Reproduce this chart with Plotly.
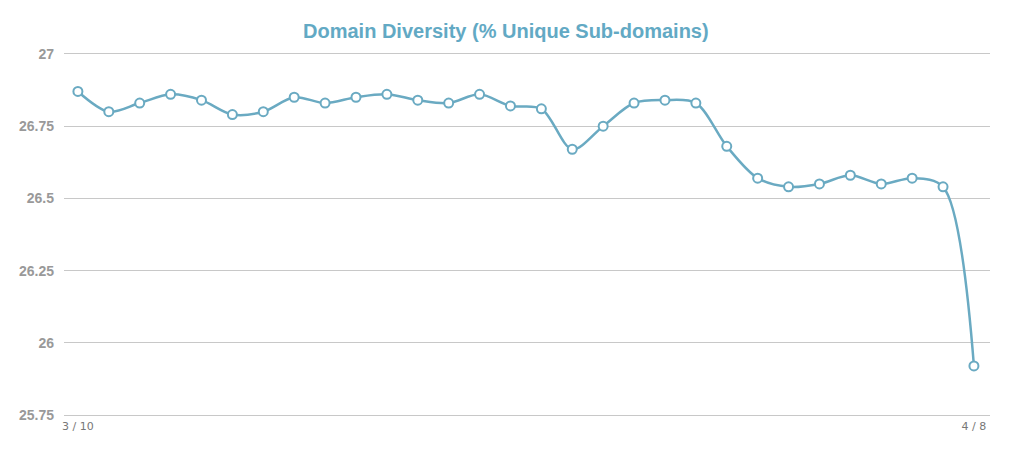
import plotly.graph_objects as go

dates = ["3/10", "3/11", "3/12", "3/13", "3/14", "3/15", "3/16", "3/17", "3/18", "3/19",
         "3/20", "3/21", "3/22", "3/23", "3/24", "3/25", "3/26", "3/27", "3/28", "3/29",
         "3/30", "3/31", "4/1", "4/2", "4/3", "4/4", "4/5", "4/6", "4/7", "4/8"]
diversity = [26.87, 26.80, 26.83, 26.86, 26.84, 26.79, 26.80, 26.85, 26.83, 26.85,
             26.86, 26.84, 26.83, 26.86, 26.82, 26.81, 26.67, 26.75, 26.83, 26.84,
             26.83, 26.68, 26.57, 26.54, 26.55, 26.58, 26.55, 26.57, 26.54, 25.92]
x_tick_labels = ["3/10", "4/8"]
y_ticks = [25.75, 26, 26.25, 26.5, 26.75, 27]
y_tick_labels = ["25.75", "26", "26.25", "26.5", "26.75", "27"]

idx = list(range(len(dates)))

fig = go.Figure()
fig.add_trace(go.Scatter(
    x=idx, y=diversity, mode="lines+markers",
    line=dict(color="#6aaac2", width=2.5, shape="spline", smoothing=0.9),
    marker=dict(size=9, color="white", line=dict(color="#6aaac2", width=2)),
    text=dates, hoverinfo="text+y",
))

fig.update_layout(
    width=1016, height=453,
    margin=dict(l=56, r=34, t=43, b=43),
    paper_bgcolor="white", plot_bgcolor="white",
    showlegend=False,
    title=dict(text="<b>Domain Diversity (% Unique Sub-domains)</b>",
               x=0.49, xanchor="center", y=0.95, yanchor="middle",
               font=dict(family="Liberation Sans, Arial", size=20, color="#62a9c4")),
    xaxis=dict(
        range=[-0.45, 29.52],
        tickmode="array",
        tickvals=[idx[dates.index(t)] for t in x_tick_labels],
        ticktext=[t.replace("/", " / ") for t in x_tick_labels],
        showgrid=False, zeroline=False, showline=False,
        ticks="", ticklen=0,
        tickfont=dict(family="DejaVu Sans", size=11, color="#777777"),
    ),
    yaxis=dict(
        range=[25.74, 27.01],
        tickmode="array", tickvals=y_ticks, ticktext=y_tick_labels,
        showgrid=True, gridcolor="#c8c8c8", gridwidth=1,
        zeroline=False, showline=False,
        ticks="", ticklabelstandoff=9,
        tickfont=dict(family="Liberation Sans, Arial", size=14, color="#999999", weight="bold"),
    ),
)

fig.write_html("out.html")
